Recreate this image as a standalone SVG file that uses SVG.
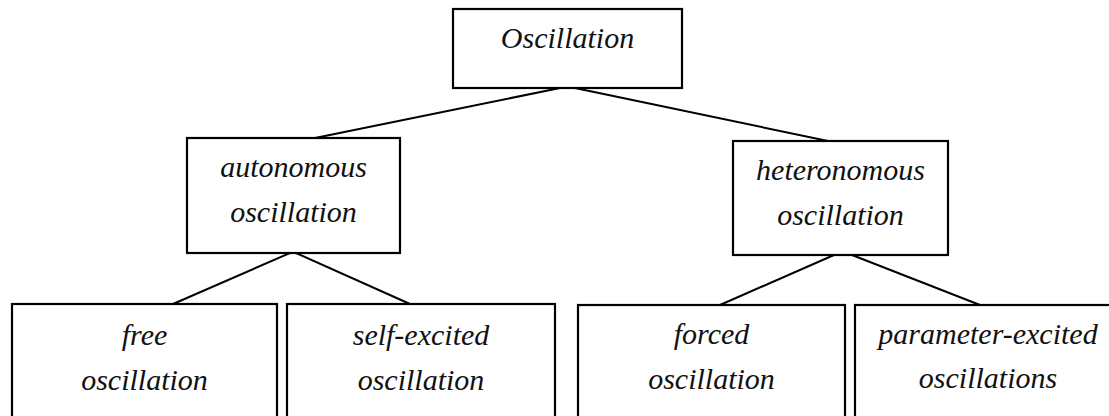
<svg xmlns="http://www.w3.org/2000/svg" width="1109" height="416" viewBox="0 0 1109 416">
<style>
.box{fill:#fff;stroke:#000;stroke-width:2.2}
.lbl{font-family:"Liberation Serif","Times New Roman",serif;font-style:italic;font-size:30px;fill:#111;text-anchor:middle}
.con{stroke:#000;stroke-width:2;fill:none}
</style>
<rect width="1109" height="416" fill="#fff"/>
<g id="connectors">
<line class="con" x1="560" y1="88" x2="315" y2="138"/>
<line class="con" x1="575" y1="88" x2="828" y2="141"/>
<line class="con" x1="290" y1="253" x2="173" y2="304"/>
<line class="con" x1="296" y1="253" x2="410" y2="304"/>
<line class="con" x1="834" y1="255" x2="720" y2="305"/>
<line class="con" x1="852" y1="255" x2="980" y2="305"/>
</g>
<g id="oscillation">
<rect class="box" x="453" y="9" width="229" height="79"/>
<text class="lbl" x="567.5" y="48">Oscillation</text>
</g>
<g id="autonomous">
<rect class="box" x="187" y="138" width="213" height="115"/>
<text class="lbl" x="293.5" y="177">autonomous</text>
<text class="lbl" x="293.5" y="222">oscillation</text>
</g>
<g id="heteronomous">
<rect class="box" x="733" y="141" width="215" height="114"/>
<text class="lbl" x="840.5" y="180">heteronomous</text>
<text class="lbl" x="840.5" y="225">oscillation</text>
</g>
<g id="free">
<rect class="box" x="12" y="304" width="265" height="130"/>
<text class="lbl" x="144.5" y="345">free</text>
<text class="lbl" x="144.5" y="390">oscillation</text>
</g>
<g id="self-excited">
<rect class="box" x="287" y="304" width="268" height="130"/>
<text class="lbl" x="421" y="345">self-excited</text>
<text class="lbl" x="421" y="390">oscillation</text>
</g>
<g id="forced">
<rect class="box" x="578" y="305" width="267" height="130"/>
<text class="lbl" x="711.5" y="344">forced</text>
<text class="lbl" x="711.5" y="389">oscillation</text>
</g>
<g id="parameter-excited">
<rect class="box" x="855" y="305" width="270" height="130"/>
<text class="lbl" x="988" y="344">parameter-excited</text>
<text class="lbl" x="988" y="388">oscillations</text>
</g>
</svg>
